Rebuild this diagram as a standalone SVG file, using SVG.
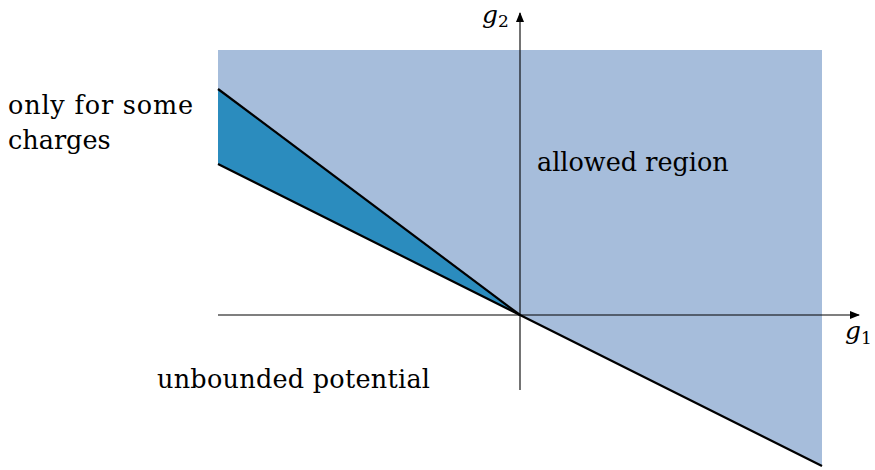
<svg xmlns="http://www.w3.org/2000/svg" width="875" height="470" viewBox="0 0 875 470">
<style>
.lbl{font-family:'DejaVu Serif','Liberation Serif',serif;font-size:25.5px;fill:#000}
.math{font-family:'DejaVu Serif','Liberation Serif',serif;font-style:italic;font-size:25px;fill:#000}
.sub{font-family:'DejaVu Serif','Liberation Serif',serif;font-size:17px;fill:#000}
.axis{stroke:#000;stroke-width:1.1;fill:none}
.bound{stroke:#000;stroke-width:2.2;fill:none}
</style>
<defs>
<marker id="arr" viewBox="0 0 10 10" refX="9" refY="5" markerWidth="10" markerHeight="10" markerUnits="userSpaceOnUse" orient="auto">
<path d="M0,1 L10,5 L0,9 Z" fill="#000"/>
</marker>
</defs>
<g id="allowed-region">
<polygon points="218,50 822,50 822,466 520,315 218,89" fill="#a6bddb"/>
</g>
<g id="some-charges-region">
<polygon points="218,89 520,315 218,164" fill="#2b8cbe"/>
</g>
<g id="connectors">
<line class="axis" x1="218" y1="315" x2="859" y2="315" marker-end="url(#arr)"/>
<line class="axis" x1="520" y1="390" x2="520" y2="13" marker-end="url(#arr)"/>
<line class="bound" x1="218" y1="89" x2="520" y2="315"/>
<line class="bound" x1="218" y1="164" x2="822" y2="466"/>
</g>
<g id="axis-g1">
<text class="math" x="845" y="339">g</text><text class="sub" x="861" y="344">1</text>
</g>
<g id="axis-g2">
<text class="math" x="482" y="23">g</text><text class="sub" x="498" y="27">2</text>
</g>
<g id="label-charges">
<text class="lbl" x="8" y="114" textLength="185" lengthAdjust="spacing">only for some</text>
<text class="lbl" x="8" y="149">charges</text>
</g>
<g id="label-allowed">
<text class="lbl" x="537" y="171">allowed region</text>
</g>
<g id="label-unbounded">
<text class="lbl" x="157" y="388" textLength="273" lengthAdjust="spacing">unbounded potential</text>
</g>
</svg>
